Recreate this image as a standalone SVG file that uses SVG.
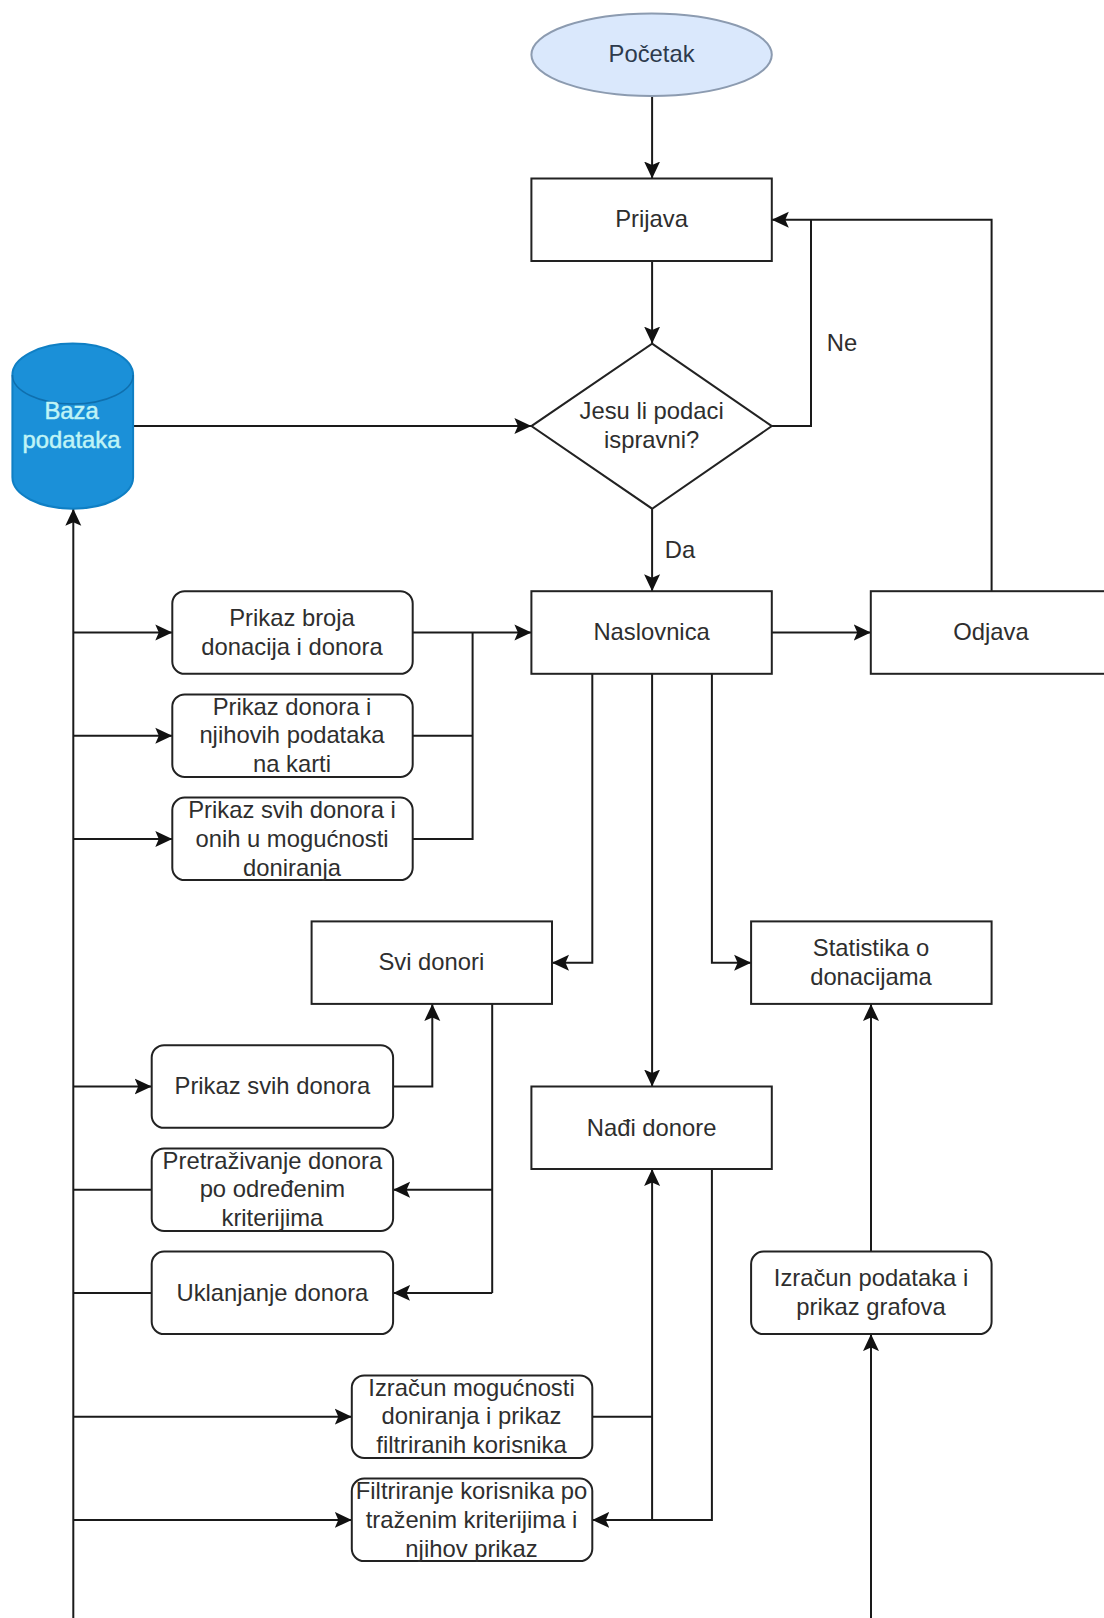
<svg xmlns="http://www.w3.org/2000/svg" width="1104" height="1618" viewBox="0 0 1104 1618">
<style>
text{font-family:"Liberation Sans",Arial,sans-serif;font-size:23.8px;fill:#2e2e2e;text-anchor:middle;dominant-baseline:central;transform:translateY(-0.7px)}
.b{fill:#fff;stroke:#222;stroke-width:2}
.c{fill:none;stroke:#1a1a1a;stroke-width:2;marker-end:url(#a)}
.p{fill:none;stroke:#1a1a1a;stroke-width:2}
.w{fill:#c0f4f6;stroke:#c0f4f6;stroke-width:.5}
</style>
<defs><marker id="a" markerUnits="userSpaceOnUse" markerWidth="18" markerHeight="18" refX="17" refY="9" orient="auto"><path d="M0 1L17 9L0 17L3.5 9Z" fill="#111"/></marker></defs>
<rect width="1104" height="1618" fill="#fff"/>
<g id="connectors">
<path class="c" d="M652.1 96V178.5"/>
<path class="c" d="M652.1 261V343.6"/>
<path class="c" d="M133.1 426.1H531.4"/>
<path class="p" d="M771.8 426.1H811V219.7"/>
<path class="c" d="M991.6 591.2V219.7H771.8"/>
<path class="c" d="M652.1 508.7V591.2"/>
<path class="c" d="M771.8 632.5H870.8"/>
<path class="c" d="M73.3 1618V508.7"/>
<path class="c" d="M73.3 632.5H172.3"/>
<path class="c" d="M73.3 735.7H172.3"/>
<path class="c" d="M73.3 838.9H172.3"/>
<path class="c" d="M73.3 1086.5H151.7"/>
<path class="p" d="M73.3 1189.7H151.7"/>
<path class="p" d="M73.3 1292.9H151.7"/>
<path class="c" d="M73.3 1416.7H351.8"/>
<path class="c" d="M73.3 1519.9H351.8"/>
<path class="c" d="M412.7 632.5H531.4"/>
<path class="p" d="M412.7 735.7H472.6"/>
<path class="p" d="M412.7 838.9H472.6V632.5"/>
<path class="c" d="M592.3 673.8V962.7H552"/>
<path class="c" d="M711.9 673.8V962.7H751.1"/>
<path class="c" d="M652.1 673.8V1086.5"/>
<path class="c" d="M393.1 1086.5H432.3V1003.9"/>
<path class="p" d="M492.2 1003.9V1292.9"/>
<path class="c" d="M492.2 1189.7H393.1"/>
<path class="c" d="M492.2 1292.9H393.1"/>
<path class="c" d="M871 1251.6V1003.9"/>
<path class="c" d="M871 1618V1334.1"/>
<path class="p" d="M592.3 1416.7H652.1"/>
<path class="c" d="M652.1 1519.9V1169"/>
<path class="c" d="M711.9 1169V1519.9H592.3"/>
</g>
<g id="pocetak"><ellipse cx="651.6" cy="54.7" rx="120.2" ry="41.3" fill="#dae8fc" stroke="#8c9bb0" stroke-width="2"/><text x="651.6" y="54.7" style="fill:#2d3a4c">Početak</text></g>
<g id="prijava"><rect class="b" x="531.4" y="178.5" width="240.4" height="82.5"/><text x="651.6" y="219.7">Prijava</text></g>
<g id="provjera"><path class="b" d="M652.1 343.6L771.8 426.1L652.1 508.7L531.4 426.1Z"/><text x="651.6" y="411.7">Jesu li podaci</text><text x="651.6" y="440.6">ispravni?</text></g>
<g id="baza"><path d="M12.4 375A60.35 31.4 0 0 1 133.1 375V477.3A60.35 31.4 0 0 1 12.4 477.3Z" fill="#1b90d8" stroke="#0f7fc4" stroke-width="2"/><path d="M12.4 375A60.35 29 0 0 0 133.1 375" fill="none" stroke="#0f6fae" stroke-width="1.5"/><text class="w" x="71.5" y="411.7">Baza</text><text class="w" x="71.5" y="440.6">podataka</text></g>
<g id="naslovnica"><rect class="b" x="531.4" y="591.2" width="240.4" height="82.6"/><text x="651.6" y="632.5">Naslovnica</text></g>
<g id="odjava"><rect class="b" x="870.8" y="591.2" width="240.4" height="82.6"/><text x="991" y="632.5">Odjava</text></g>
<g id="prikaz-broja"><rect class="b" x="172.3" y="591.2" width="240.4" height="82.6" rx="12.4"/><text x="292" y="618">Prikaz broja</text><text x="292" y="647">donacija i donora</text></g>
<g id="prikaz-karta"><rect class="b" x="172.3" y="694.4" width="240.4" height="82.5" rx="12.4"/><text x="292" y="706.8">Prikaz donora i</text><text x="292" y="735.7">njihovih podataka</text><text x="292" y="764.6">na karti</text></g>
<g id="prikaz-svih-mogucnost"><rect class="b" x="172.3" y="797.6" width="240.4" height="82.5" rx="12.4"/><text x="292" y="810">Prikaz svih donora i</text><text x="292" y="838.9">onih u mogućnosti</text><text x="292" y="867.8">doniranja</text></g>
<g id="svi-donori"><rect class="b" x="311.6" y="921.4" width="240.4" height="82.5"/><text x="431.3" y="962.7">Svi donori</text></g>
<g id="statistika"><rect class="b" x="751.1" y="921.4" width="240.5" height="82.5"/><text x="871" y="948.2">Statistika o</text><text x="871" y="977.1">donacijama</text></g>
<g id="nadi-donore"><rect class="b" x="531.4" y="1086.5" width="240.4" height="82.5"/><text x="651.6" y="1127.8">Nađi donore</text></g>
<g id="prikaz-svih"><rect class="b" x="151.7" y="1045.2" width="241.4" height="82.6" rx="12.4"/><text x="272.4" y="1086.5">Prikaz svih donora</text></g>
<g id="pretrazivanje"><rect class="b" x="151.7" y="1148.4" width="241.4" height="82.5" rx="12.4"/><text x="272.4" y="1160.8">Pretraživanje donora</text><text x="272.4" y="1189.7">po određenim</text><text x="272.4" y="1218.6">kriterijima</text></g>
<g id="uklanjanje"><rect class="b" x="151.7" y="1251.6" width="241.4" height="82.5" rx="12.4"/><text x="272.4" y="1292.9">Uklanjanje donora</text></g>
<g id="izracun-podataka"><rect class="b" x="751.1" y="1251.6" width="240.5" height="82.5" rx="12.4"/><text x="871" y="1278.4">Izračun podataka i</text><text x="871" y="1307.3">prikaz grafova</text></g>
<g id="izracun-mogucnosti"><rect class="b" x="351.8" y="1375.4" width="240.5" height="82.5" rx="12.4"/><text x="471.5" y="1387.8">Izračun mogućnosti</text><text x="471.5" y="1416.7">doniranja i prikaz</text><text x="471.5" y="1445.6">filtriranih korisnika</text></g>
<g id="filtriranje"><rect class="b" x="351.8" y="1478.6" width="240.5" height="82.5" rx="12.4"/><text x="471.5" y="1491">Filtriranje korisnika po</text><text x="471.5" y="1519.9">traženim kriterijima i</text><text x="471.5" y="1548.8">njihov prikaz</text></g>
<g id="labels"><text x="842" y="343.6">Ne</text><text x="680" y="550">Da</text></g>
</svg>
